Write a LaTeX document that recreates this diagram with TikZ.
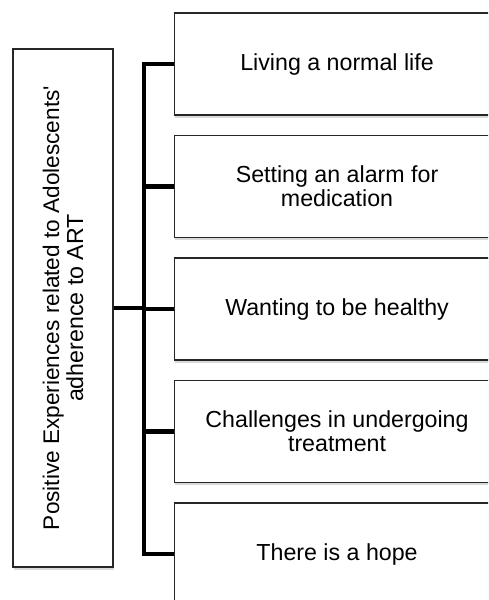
\documentclass[tikz,border=0pt]{standalone}
\usepackage{fontspec}
\setmainfont{Liberation Sans}
\usetikzlibrary{shadows,positioning}

\begin{document}
\begin{tikzpicture}[x=1pt,y=-1pt,
    theme/.style={draw=black!85,line width=1.1pt,fill=white,
      drop shadow={opacity=0.3,shadow xshift=0.5pt,shadow yshift=-2.5pt},
      font=\fontsize{23.2}{24}\selectfont,align=center},
    leaf/.style={theme,anchor=west,minimum width=325pt,minimum height=102pt,inner sep=0pt},
    conn/.style={line width=4.5pt,black}]
  \useasboundingbox (0,0) rectangle (488,600);
  \clip (0,0) rectangle (488,600);
  % main theme
  \node[theme,rotate=90,minimum width=518pt,minimum height=100pt,inner sep=0pt] (root) at (63,308)
    {\fontsize{22.6}{24}\selectfont Positive Experiences related to Adolescents\textquotesingle\\adherence to ART};
  % sub-themes
  \node[leaf] (b1) at (174,64) {Living a normal life};
  \node[leaf] (b2) at (174,186.5) {Setting an alarm for\\medication};
  \node[leaf] (b3) at (174,309) {Wanting to be healthy};
  \node[leaf] (b4) at (174,431.5) {Challenges in undergoing\\treatment};
  \node[leaf] (b5) at (174,554) {There is a hope};
  % connectors
  \coordinate (bus) at (144,309);
  \draw[conn] (root.south) -- (root.south -| bus);
  \draw[conn,line cap=rect] (b1.west -| bus) -- (b5.west -| bus);
  \foreach \i in {1,...,5}
    \draw[conn] (b\i.west -| bus) -- (b\i.west);
\end{tikzpicture}
\end{document}
